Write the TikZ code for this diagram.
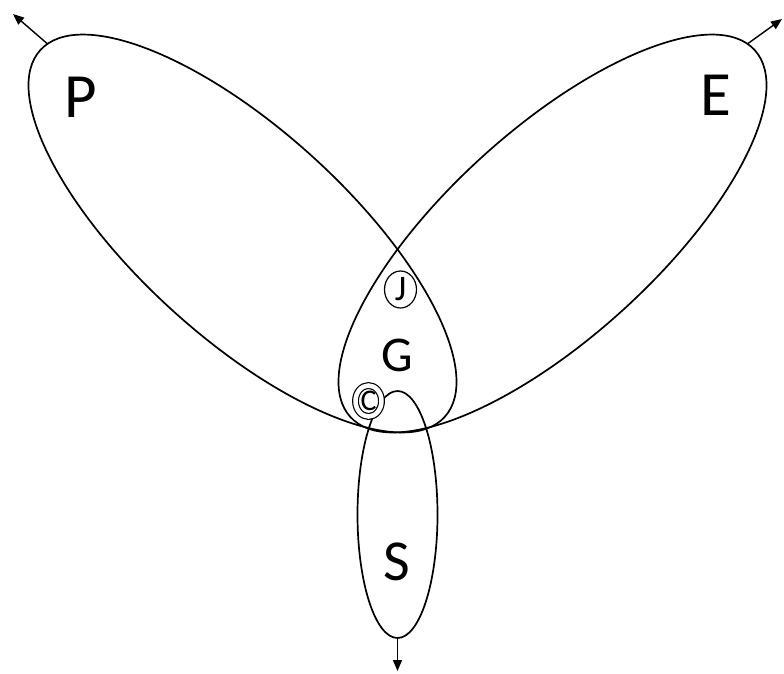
\documentclass[tikz,border=0pt]{standalone}
\usepackage{fontspec}
\setmainfont{Carlito}
\usetikzlibrary{shapes.geometric,arrows.meta}
\begin{document}
\begin{tikzpicture}[x=1pt, y=-1pt, >={Triangle[length=11pt,width=9pt]},
  set/.style={draw, ellipse, line width=1.7pt, inner sep=0pt, outer sep=0pt},
  ring/.style={draw, ellipse, line width=1.2pt, inner sep=0pt},
  big/.style={font=\fontsize{63}{63}\selectfont},
  outarrow/.style={->, line width=1.4pt}]
  \useasboundingbox (0,0) rectangle (784,673);
  \node[set, rotate=-42.2, minimum width=546, minimum height=208] (pset) at (242.5,233.5) {};
  \node[set, rotate=42.2, minimum width=546, minimum height=208] (eset) at (552.5,233.5) {};
  \node[set, minimum width=80, minimum height=247] (sset) at (397.5,514.5) {};
  \node[ring, minimum width=32, minimum height=37, font=\fontsize{36}{36}\selectfont] (j) at (400.5,289.5) {J};
  \node[ring, double, double distance=4.5pt, minimum width=26, minimum height=31, font=\fontsize{30}{30}\selectfont] (c) at (368.5,401) {C};
  \node[big] (p) at (81,97) {P};
  \node[big] (e) at (716,95) {E};
  \node[big, font=\fontsize{50}{50}\selectfont] (g) at (397,355) {G};
  \node[big, font=\fontsize{58}{58}\selectfont] (s) at (397,562) {S};
  \coordinate (ptip) at (13,14);
  \coordinate (etip) at (782,19);
  \coordinate (stip) at (397.5,671);
  \draw[outarrow] (pset.178) -- (ptip);
  \draw[outarrow] (eset.2) -- (etip);
  \draw[outarrow] (sset.south) -- (stip);
\end{tikzpicture}
\end{document}
